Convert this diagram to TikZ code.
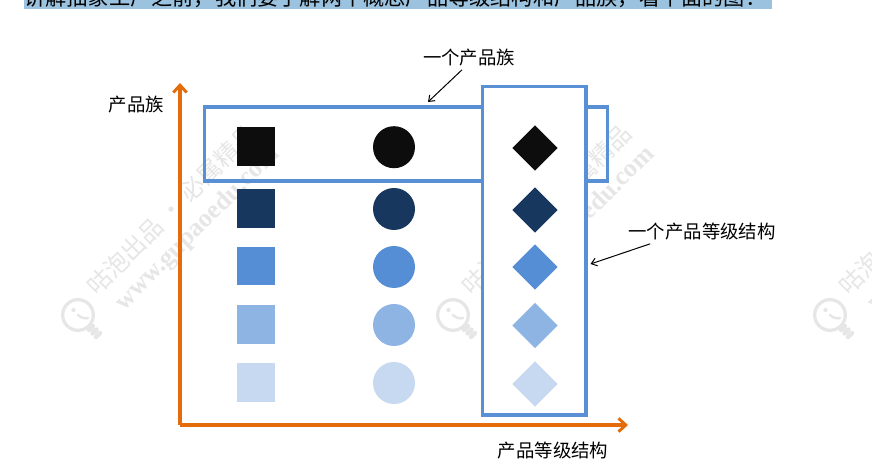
\documentclass[tikz,border=0pt]{standalone}
\usepackage{fontspec}
\setmainfont{Noto Sans CJK SC}
\newfontfamily\wmlatin{Liberation Serif}
\usetikzlibrary{arrows.meta,shapes.geometric}
\definecolor{axisorange}{HTML}{E46C0A}
\definecolor{frameblue}{HTML}{588FD5}
\definecolor{stripblue}{HTML}{9BC2DE}
\definecolor{shadeA}{HTML}{0D0D0D}
\definecolor{shadeB}{HTML}{17375E}
\definecolor{shadeC}{HTML}{558ED5}
\definecolor{shadeD}{HTML}{8EB4E3}
\definecolor{shadeE}{HTML}{C6D9F1}
\definecolor{wm}{HTML}{E6E6E6}
\tikzset{
  x=0.75pt,y=-0.75pt,
  lbl/.style={inner sep=0pt,font=\fontsize{13.8pt}{16pt}\selectfont,text=black},
  sq/.style={rectangle,minimum size=28.9pt,inner sep=0pt,fill=#1},
  circ/.style={circle,minimum size=31.5pt,inner sep=0pt,fill=#1},
  dia/.style={diamond,minimum size=34pt,inner sep=0pt,fill=#1},
  frameA/.style={rectangle,draw=frameblue,line width=2.6pt,inner sep=0pt,outer sep=0pt,anchor=north west},
  axisline/.style={draw=axisorange,line width=2.4pt,-{Straight Barb[length=5.5pt,width=10pt,line width=2.2pt]}},
  thinarrow/.style={draw=black,line width=0.75pt,-{Straight Barb[length=4pt,width=6pt]}},
  wmtext/.style={text=wm,inner sep=0pt,rotate=45,anchor=west},
  wmbulb/.style={draw=wm,line width=2.4pt,circle,minimum size=23pt,inner sep=0pt}
}
\newcommand{\wmark}[2]{%
  \begin{scope}[shift={(#1,#2)}]
    \node[wmbulb] (bulb#1) at (0,0) {};
    \fill[wm] (-4.5,-5) circle (1.6pt);
    \draw[wm,line width=1.8pt,line cap=round] (0,0) .. controls (3,3) and (7,4) .. (10,3);
    \draw[wm,line width=3.2pt,line cap=round] (11,15) -- (15,11) (14.5,18.5) -- (18.5,14.5) (18,22) -- (22,18);
    \node[wmtext,font=\fontsize{18pt}{20pt}\selectfont] (wmcn#1) at (13,-25) {咕泡出品 · 必属精品};
    \node[wmtext,font=\fontsize{19.3pt}{21pt}\selectfont\wmlatin\bfseries] (wmen#1) at (42,-8) {www.gupaoedu.com};
  \end{scope}}
\begin{document}
\begin{tikzpicture}
\useasboundingbox (0,0) rectangle (872,473);
\fill[white] (0,0) rectangle (872,473);
% clipped header line
\begin{scope}
\clip (0,0) rectangle (872,9);
\fill[stripblue] (24,0) rectangle (772,9);
\node[anchor=base west,inner sep=0pt,font=\fontsize{15.9pt}{18pt}\selectfont] (head) at (24,6) {讲解抽象工厂之前，我们要了解两个概念产品等级结构和产品族，看下面的图：};
\end{scope}
% watermarks
\wmark{78}{315}
\wmark{453}{315}
\wmark{830}{315}
% axes
\coordinate (origin) at (180,425);
\coordinate (ytip) at (180,83);
\coordinate (xtip) at (628,425);
\draw[axisline] (origin) -- (ytip);
\draw[axisline] (origin) -- (xtip);
% product family frame
\node[frameA,minimum width=301.9pt,minimum height=55.5pt] (family) at (204.7,107) {};
% product level frame
\node[frameA,fill=white,minimum width=77.3pt,minimum height=246.2pt] (level) at (482.7,86.7) {};
% squares
\node[sq=shadeA] (s1) at (256,146.5) {};
\node[sq=shadeB] (s2) at (256,208.5) {};
\node[sq=shadeC] (s3) at (256,266) {};
\node[sq=shadeD] (s4) at (256,324.5) {};
\node[sq=shadeE] (s5) at (256,382.5) {};
% circles
\node[circ=shadeA] (c1) at (394,147.2) {};
\node[circ=shadeB] (c2) at (394,209) {};
\node[circ=shadeC] (c3) at (394,267) {};
\node[circ=shadeD] (c4) at (394,325) {};
\node[circ=shadeE] (c5) at (394,383) {};
% diamonds
\node[dia=shadeA] (d1) at (535,148) {};
\node[dia=shadeB] (d2) at (535,210) {};
\node[dia=shadeC] (d3) at (535,267) {};
\node[dia=shadeD] (d4) at (535,325.5) {};
\node[dia=shadeE] (d5) at (535,384) {};
% labels
\node[lbl] (lfam) at (136.5,105) {产品族};
\node[lbl] (lonefam) at (469,58) {一个产品族};
\node[lbl] (lonelevel) at (702,232) {一个产品等级结构};
\node[lbl] (llevel) at (553,451) {产品等级结构};
% connectors
\coordinate (famend) at (428,102);
\coordinate (levend) at (590.5,264);
\draw[thinarrow] (lonefam.south) ++(-7,3) -- (famend);
\draw[thinarrow] (lonelevel.south west) ++(22,3) -- (levend);
\end{tikzpicture}
\end{document}
